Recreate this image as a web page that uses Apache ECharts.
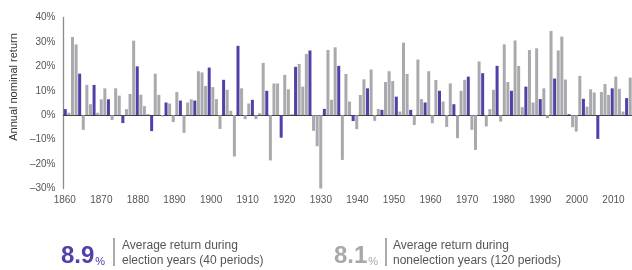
<!DOCTYPE html>
<html>
<head>
<meta charset="utf-8">
<script src="https://cdn.jsdelivr.net/npm/echarts@6/dist/echarts.min.js"></script>
<style>
  html, body { margin: 0; padding: 0; background: #fff; }
  #chart { width: 632px; height: 270px; }
</style>
</head>
<body>
<div id="chart"></div>
<script>
// years shown, 1860 to 2017 (chart is cut at the right edge)
const firstYear = 1860;
const returns = [
  2.5, 1, 32, 29, 17, -6, 12.4, 4.5, 12.4, 1,            // 1860s
  6.5, 11, 6.5, -2, 11, 8, -3.2, 2.5, 8.7, 30.5,         // 1870s
  20, 8.4, 3.7, 0.5, -6.5, 17, 8.3, -0.5, 5.2, 4.8,      // 1880s
  -2.8, 9.5, 6, -7.2, 5.2, 6.5, 6, 18, 17.5, 12,         // 1890s
  19.5, 11.5, 6.6, -5.6, 14.5, 10.4, 1.8, -16.9, 28.4, 11, // 1900s
  -1.6, 4.8, 6.3, -1.6, 0.8, 21.4, 10, -18.5, 13, 13,    // 1910s
  -9.2, 16.5, 10.6, 0.5, 19.8, 21, 11.7, 25.1, 26.5, -6.4, // 1920s
  -12.7, -31.1, 2.6, 26.7, 6.3, 27.8, 20.2, -18.3, 16.9, 5.6, // 1930s
  -2.4, -5.7, 8.3, 14.7, 11, 18.7, -2.3, 2.6, 2.2, 13.6, // 1940s
  18, 14, 7.6, 1.5, 29.7, 16.9, 2.2, -4, 22.8, 6.6,      // 1950s
  5.2, 18, -3.3, 14.4, 10, 5.6, -4.8, 13, 4.5, -9.4,     // 1960s
  10, 14.5, 15.8, -6, -14.2, 22, 17.2, -4.6, 2.5, 10.4,  // 1970s
  20.2, -2.6, 29, 13.6, 10, 30.6, 20.2, 3.3, 11.7, 26.7, // 1980s
  5.2, 27.4, 6.6, 11, -1.2, 34.5, 15, 26.5, 32.2, 14.6,  // 1990s
  0.4, -4.9, -6.7, 16.1, 6.7, 3.5, 10.6, 9.3, -9.7, 9.5, // 2000s
  12.8, 8.3, 11, 15.8, 10.8, 1.5, 7, 15.4                // 2010s
];
const years = returns.map((v, i) => firstYear + i);
const yearLabels = [1860, 1870, 1880, 1890, 1900, 1910, 1920, 1930, 1940, 1950, 1960, 1970, 1980, 1990, 2000, 2010];
const yTicks = [-30, -20, -10, 0, 10, 20, 30, 40];

// summary figures printed under the chart
const electionAvg = '8.9';
const nonElectionAvg = '8.1';

const PURPLE = '#5040a8';
const GREY = '#a8aaad';
const FONT = '"Liberation Sans", Arial, sans-serif';

const isElection = (y) => y % 4 === 0;
const electionData = returns.map((v, i) => isElection(years[i]) ? v : '-');
const otherData = returns.map((v, i) => isElection(years[i]) ? '-' : v);

const chart = echarts.init(document.getElementById('chart'), null, {renderer: 'canvas'});

// big number with a small % sign after it
function bigNumber(value, x, color) {
  return {
    type: 'text',
    x: x,
    y: 244,
    style: {
      text: '{n|' + value + '}{p|%}',
      fill: color,
      rich: {
        n: { fontSize: 24, fontFamily: FONT, fontWeight: 'bold', fill: color, lineHeight: 24, verticalAlign: 'bottom' },
        p: { fontSize: 11, fontFamily: FONT, fill: color, lineHeight: 24, verticalAlign: 'bottom', padding: [0, 0, 1, 1] },
      },
    },
  };
}

function note(lines, x) {
  return {
    type: 'text',
    x: x,
    y: 238,
    style: { text: lines.join('\n'), font: '12px ' + FONT, fill: '#555', lineHeight: 15 },
  };
}

function sep(x) {
  return { type: 'line', shape: { x1: x, y1: 238, x2: x, y2: 266 }, style: { stroke: '#555', lineWidth: 1 } };
}

const option = {
  animation: false,
  textStyle: { fontFamily: FONT },
  grid: { left: 61.2, top: 17.5, width: 571.2, height: 171 },
  xAxis: [
    {
      type: 'category',
      data: years,
      axisLine: { onZero: true, lineStyle: { color: '#333', width: 1 } },
      axisTick: { show: false },
      axisLabel: { show: false },
      splitLine: { show: false },
    },
    {
      // label-only axis, the printed years drift slightly from the bars
      type: 'value',
      position: 'bottom',
      min: 1859.65,
      max: 2015.07,
      axisLine: { show: false },
      axisTick: { show: false },
      splitLine: { show: false },
      axisLabel: {
        customValues: yearLabels,
        color: '#555',
        fontSize: 10,
        margin: 7,
        formatter: (v) => String(v),
      },
    },
  ],
  yAxis: {
    type: 'value',
    min: yTicks[0],
    max: yTicks[yTicks.length - 1],
    interval: 10,
    name: 'Annual nominal return',
    nameLocation: 'middle',
    nameGap: 37,
    nameTextStyle: { color: '#333', fontSize: 11, padding: [0, 0, 0, 32] },
    axisLine: { show: true, lineStyle: { color: '#8c8c8c', width: 1.3 } },
    axisTick: { show: false },
    splitLine: { show: false },
    axisLabel: {
      color: '#555',
      fontSize: 10,
      margin: 8,
      formatter: (v) => (v < 0 ? '\u2013' + (-v) : v) + '%',
    },
  },
  series: [
    {
      name: 'Election years',
      type: 'bar',
      data: electionData,
      barWidth: 3,
      barGap: '-100%',
      itemStyle: { color: PURPLE },
    },
    {
      name: 'Nonelection years',
      type: 'bar',
      data: otherData,
      barWidth: 3,
      barGap: '-100%',
      itemStyle: { color: GREY },
    },
  ],
  graphic: [
    bigNumber(electionAvg, 61, PURPLE),
    sep(114),
    note(['Average return during', 'election years (40 periods)'], 122),
    bigNumber(nonElectionAvg, 334, '#a6a8ab'),
    sep(386),
    note(['Average return during', 'nonelection years (120 periods)'], 393),
  ],
};

chart.setOption(option);
</script>
</body>
</html>
